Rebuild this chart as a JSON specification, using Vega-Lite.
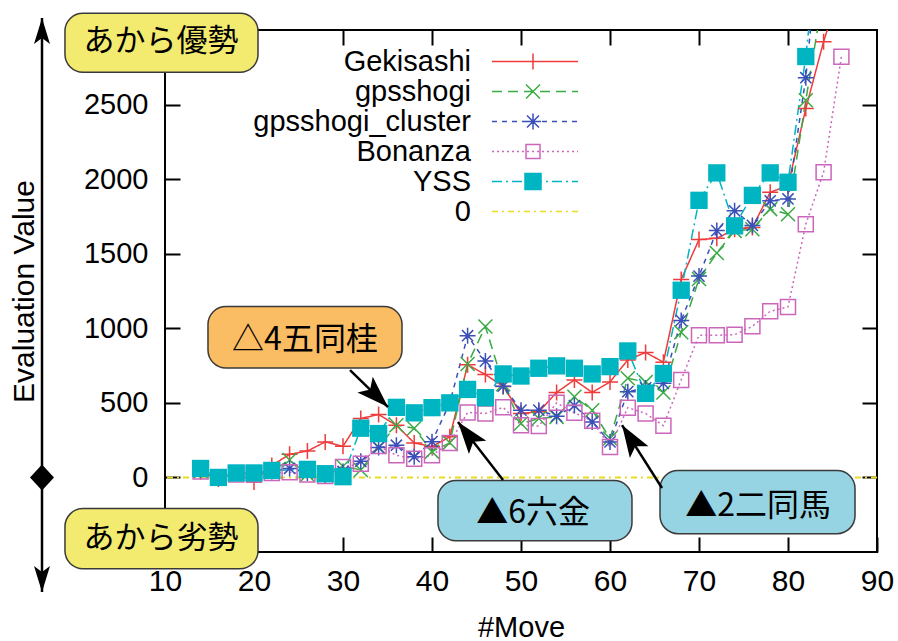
{
"$schema":"https://vega.github.io/schema/vega-lite/v6.json",
"width":712,"height":522,
"autosize":"none",
"padding":{"left":165,"top":30,"right":21,"bottom":89},
"background":"white",
"config":{"view":{"stroke":"black","strokeWidth":2},"font":"Liberation Sans"},
"datasets":{"evals":[
{"series":"Gekisashi","move":14,"value":40},{"series":"Gekisashi","move":16,"value":-10},{"series":"Gekisashi","move":18,"value":30},{"series":"Gekisashi","move":20,"value":-30},{"series":"Gekisashi","move":22,"value":80},{"series":"Gekisashi","move":24,"value":155},{"series":"Gekisashi","move":26,"value":177},{"series":"Gekisashi","move":28,"value":238},{"series":"Gekisashi","move":30,"value":209},{"series":"Gekisashi","move":32,"value":395},{"series":"Gekisashi","move":34,"value":422},{"series":"Gekisashi","move":36,"value":350},{"series":"Gekisashi","move":38,"value":231},{"series":"Gekisashi","move":40,"value":207},{"series":"Gekisashi","move":42,"value":272},{"series":"Gekisashi","move":44,"value":755},{"series":"Gekisashi","move":46,"value":690},{"series":"Gekisashi","move":48,"value":610},{"series":"Gekisashi","move":50,"value":429},{"series":"Gekisashi","move":52,"value":440},{"series":"Gekisashi","move":54,"value":570},{"series":"Gekisashi","move":56,"value":654},{"series":"Gekisashi","move":58,"value":570},{"series":"Gekisashi","move":60,"value":640},{"series":"Gekisashi","move":62,"value":788},{"series":"Gekisashi","move":64,"value":838},{"series":"Gekisashi","move":66,"value":773},{"series":"Gekisashi","move":68,"value":1327},{"series":"Gekisashi","move":70,"value":1595},{"series":"Gekisashi","move":72,"value":1603},{"series":"Gekisashi","move":74,"value":1664},{"series":"Gekisashi","move":76,"value":1676},{"series":"Gekisashi","move":78,"value":1912},{"series":"Gekisashi","move":80,"value":1956},{"series":"Gekisashi","move":82,"value":2473},{"series":"Gekisashi","move":84,"value":2922},{"series":"Gekisashi","move":86,"value":3300},
{"series":"gpsshogi","move":14,"value":40},{"series":"gpsshogi","move":16,"value":0},{"series":"gpsshogi","move":18,"value":30},{"series":"gpsshogi","move":20,"value":30},{"series":"gpsshogi","move":22,"value":45},{"series":"gpsshogi","move":24,"value":117},{"series":"gpsshogi","move":26,"value":20},{"series":"gpsshogi","move":28,"value":30},{"series":"gpsshogi","move":30,"value":75},{"series":"gpsshogi","move":32,"value":50},{"series":"gpsshogi","move":34,"value":204},{"series":"gpsshogi","move":36,"value":350},{"series":"gpsshogi","move":38,"value":330},{"series":"gpsshogi","move":40,"value":173},{"series":"gpsshogi","move":42,"value":232},{"series":"gpsshogi","move":44,"value":760},{"series":"gpsshogi","move":46,"value":1012},{"series":"gpsshogi","move":48,"value":625},{"series":"gpsshogi","move":50,"value":361},{"series":"gpsshogi","move":52,"value":395},{"series":"gpsshogi","move":54,"value":406},{"series":"gpsshogi","move":56,"value":541},{"series":"gpsshogi","move":58,"value":451},{"series":"gpsshogi","move":60,"value":261},{"series":"gpsshogi","move":62,"value":665},{"series":"gpsshogi","move":64,"value":639},{"series":"gpsshogi","move":66,"value":570},{"series":"gpsshogi","move":68,"value":973},{"series":"gpsshogi","move":70,"value":1330},{"series":"gpsshogi","move":72,"value":1505},{"series":"gpsshogi","move":74,"value":1653},{"series":"gpsshogi","move":76,"value":1664},{"series":"gpsshogi","move":78,"value":1799},{"series":"gpsshogi","move":80,"value":1765},{"series":"gpsshogi","move":82,"value":2529},{"series":"gpsshogi","move":84,"value":3250},
{"series":"gpsshogi_cluster","move":14,"value":50},{"series":"gpsshogi_cluster","move":16,"value":0},{"series":"gpsshogi_cluster","move":18,"value":30},{"series":"gpsshogi_cluster","move":20,"value":30},{"series":"gpsshogi_cluster","move":22,"value":40},{"series":"gpsshogi_cluster","move":24,"value":60},{"series":"gpsshogi_cluster","move":26,"value":30},{"series":"gpsshogi_cluster","move":28,"value":13},{"series":"gpsshogi_cluster","move":30,"value":40},{"series":"gpsshogi_cluster","move":32,"value":108},{"series":"gpsshogi_cluster","move":34,"value":200},{"series":"gpsshogi_cluster","move":36,"value":216},{"series":"gpsshogi_cluster","move":38,"value":139},{"series":"gpsshogi_cluster","move":40,"value":240},{"series":"gpsshogi_cluster","move":42,"value":500},{"series":"gpsshogi_cluster","move":44,"value":950},{"series":"gpsshogi_cluster","move":46,"value":780},{"series":"gpsshogi_cluster","move":48,"value":612},{"series":"gpsshogi_cluster","move":50,"value":451},{"series":"gpsshogi_cluster","move":52,"value":451},{"series":"gpsshogi_cluster","move":54,"value":411},{"series":"gpsshogi_cluster","move":56,"value":482},{"series":"gpsshogi_cluster","move":58,"value":372},{"series":"gpsshogi_cluster","move":60,"value":238},{"series":"gpsshogi_cluster","move":62,"value":575},{"series":"gpsshogi_cluster","move":64,"value":600},{"series":"gpsshogi_cluster","move":66,"value":631},{"series":"gpsshogi_cluster","move":68,"value":1053},{"series":"gpsshogi_cluster","move":70,"value":1350},{"series":"gpsshogi_cluster","move":72,"value":1655},{"series":"gpsshogi_cluster","move":74,"value":1788},{"series":"gpsshogi_cluster","move":76,"value":1690},{"series":"gpsshogi_cluster","move":78,"value":1855},{"series":"gpsshogi_cluster","move":80,"value":1867},{"series":"gpsshogi_cluster","move":82,"value":2680},{"series":"gpsshogi_cluster","move":84,"value":3900},
{"series":"Bonanza","move":14,"value":40},{"series":"Bonanza","move":16,"value":0},{"series":"Bonanza","move":18,"value":20},{"series":"Bonanza","move":20,"value":20},{"series":"Bonanza","move":22,"value":30},{"series":"Bonanza","move":24,"value":35},{"series":"Bonanza","move":26,"value":20},{"series":"Bonanza","move":28,"value":10},{"series":"Bonanza","move":30,"value":70},{"series":"Bonanza","move":32,"value":92},{"series":"Bonanza","move":34,"value":210},{"series":"Bonanza","move":36,"value":148},{"series":"Bonanza","move":38,"value":126},{"series":"Bonanza","move":40,"value":148},{"series":"Bonanza","move":42,"value":231},{"series":"Bonanza","move":44,"value":436},{"series":"Bonanza","move":46,"value":429},{"series":"Bonanza","move":48,"value":470},{"series":"Bonanza","move":50,"value":350},{"series":"Bonanza","move":52,"value":344},{"series":"Bonanza","move":54,"value":500},{"series":"Bonanza","move":56,"value":433},{"series":"Bonanza","move":58,"value":380},{"series":"Bonanza","move":60,"value":204},{"series":"Bonanza","move":62,"value":468},{"series":"Bonanza","move":64,"value":429},{"series":"Bonanza","move":66,"value":347},{"series":"Bonanza","move":68,"value":654},{"series":"Bonanza","move":70,"value":953},{"series":"Bonanza","move":72,"value":953},{"series":"Bonanza","move":74,"value":957},{"series":"Bonanza","move":76,"value":1013},{"series":"Bonanza","move":78,"value":1114},{"series":"Bonanza","move":80,"value":1143},{"series":"Bonanza","move":82,"value":1698},{"series":"Bonanza","move":84,"value":2046},{"series":"Bonanza","move":86,"value":2821},
{"series":"YSS","move":14,"value":60},{"series":"YSS","move":16,"value":0},{"series":"YSS","move":18,"value":30},{"series":"YSS","move":20,"value":30},{"series":"YSS","move":22,"value":47},{"series":"YSS","move":26,"value":54},{"series":"YSS","move":28,"value":25},{"series":"YSS","move":30,"value":5},{"series":"YSS","move":32,"value":330},{"series":"YSS","move":34,"value":294},{"series":"YSS","move":36,"value":470},{"series":"YSS","move":38,"value":433},{"series":"YSS","move":40,"value":468},{"series":"YSS","move":42,"value":500},{"series":"YSS","move":44,"value":590},{"series":"YSS","move":46,"value":535},{"series":"YSS","move":48,"value":694},{"series":"YSS","move":50,"value":680},{"series":"YSS","move":52,"value":732},{"series":"YSS","move":54,"value":748},{"series":"YSS","move":56,"value":732},{"series":"YSS","move":58,"value":694},{"series":"YSS","move":60,"value":743},{"series":"YSS","move":62,"value":848},{"series":"YSS","move":64,"value":564},{"series":"YSS","move":66,"value":697},{"series":"YSS","move":68,"value":1255},{"series":"YSS","move":70,"value":1858},{"series":"YSS","move":72,"value":2042},{"series":"YSS","move":74,"value":1687},{"series":"YSS","move":76,"value":1891},{"series":"YSS","move":78,"value":2042},{"series":"YSS","move":80,"value":1979},{"series":"YSS","move":82,"value":2822},{"series":"YSS","move":84,"value":3950}
]},
"resolve":{"axis":{"x":"independent","y":"independent"}},
"layer":[
{"layer":[
 {"data":{"values":[{}]},"mark":{"type":"rule","color":"#e6dc20","strokeWidth":2,"strokeDash":[6,4,2,4]},"encoding":{"y":{"datum":0}}},
 {"data":{"name":"evals"},
  "mark":{"type":"line","strokeWidth":1.5,"clip":true},
  "encoding":{
   "x":{"field":"move","type":"quantitative","scale":{"domain":[10,90],"nice":false,"zero":false},
     "axis":{"title":"#Move","values":[10,20,30,40,50,60,70,80,90],"format":"d","tickSize":-15,"tickWidth":2,"tickColor":"black","domain":false,"grid":false,"labelFont":"Liberation Sans","labelFontSize":30,"labelColor":"black","labelPadding":29,"labelFlush":false,"labelOverlap":false,"labelBound":false,"titleFont":"Liberation Sans","titleFontSize":29,"titleFontWeight":"normal","titleColor":"black","titleY":84,"titleBaseline":"alphabetic"}},
   "y":{"field":"value","type":"quantitative","scale":{"domain":[-500,3000],"nice":false,"zero":false},
     "axis":{"title":"Evaluation Value","values":[0,500,1000,1500,2000,2500],"format":"d","tickSize":-15,"tickWidth":2,"tickColor":"black","domain":false,"grid":false,"labelFont":"Liberation Sans","labelFontSize":29,"labelColor":"black","labelPadding":32,"labelOverlap":false,"labelBound":false,"titleFont":"Liberation Sans","titleFontSize":30,"titleFontWeight":"normal","titleColor":"black","titleX":-141,"titleY":261,"titleAngle":-90,"titleBaseline":"middle","titleAlign":"center"}},
   "color":{"field":"series","type":"nominal","scale":{"domain":["Gekisashi","gpsshogi","gpsshogi_cluster","Bonanza","YSS"],"range":["#ee3b3b","#3aaa44","#3a4fb8","#cc66bb","#00b5c2"]},"legend":null},
   "strokeDash":{"field":"series","type":"nominal","scale":{"domain":["Gekisashi","gpsshogi","gpsshogi_cluster","Bonanza","YSS"],"range":[[1,0],[10,6],[5,5],[2,3],[10,4,2,4]]},"legend":null}
  }},
 {"data":{"name":"evals"},"transform":[{"filter":"datum.series == 'Gekisashi'"}],
  "mark":{"type":"point","shape":"M-1,0L1,0M0,-1L0,1","size":256,"filled":false,"strokeWidth":1.5,"opacity":1,"clip":true},
  "encoding":{"x":{"field":"move","type":"quantitative"},"y":{"field":"value","type":"quantitative"},"color":{"field":"series","type":"nominal","legend":null}}},
 {"data":{"name":"evals"},"transform":[{"filter":"datum.series == 'gpsshogi'"}],
  "mark":{"type":"point","shape":"M-1,-1L1,1M-1,1L1,-1","size":196,"filled":false,"strokeWidth":1.5,"opacity":1,"clip":true},
  "encoding":{"x":{"field":"move","type":"quantitative"},"y":{"field":"value","type":"quantitative"},"color":{"field":"series","type":"nominal","legend":null}}},
 {"data":{"name":"evals"},"transform":[{"filter":"datum.series == 'gpsshogi_cluster'"}],
  "mark":{"type":"point","shape":"M-1,0L1,0M0,-1L0,1M-0.7,-0.7L0.7,0.7M-0.7,0.7L0.7,-0.7","size":256,"filled":false,"strokeWidth":1.5,"opacity":1,"clip":true},
  "encoding":{"x":{"field":"move","type":"quantitative"},"y":{"field":"value","type":"quantitative"},"color":{"field":"series","type":"nominal","legend":null}}},
 {"data":{"name":"evals"},"transform":[{"filter":"datum.series == 'Bonanza'"}],
  "mark":{"type":"point","shape":"square","size":225,"filled":false,"strokeWidth":1.5,"opacity":1,"clip":true},
  "encoding":{"x":{"field":"move","type":"quantitative"},"y":{"field":"value","type":"quantitative"},"color":{"field":"series","type":"nominal","legend":null}}},
 {"data":{"name":"evals"},"transform":[{"filter":"datum.series == 'YSS'"}],
  "mark":{"type":"point","shape":"square","size":300,"filled":true,"opacity":1,"clip":true},
  "encoding":{"x":{"field":"move","type":"quantitative"},"y":{"field":"value","type":"quantitative"},"color":{"field":"series","type":"nominal","legend":null}}},

 {"data":{"values":[{}]},"mark":{"type":"rect","fill":"#f3ea70","stroke":"#3a3a3a","strokeWidth":1.5,"cornerRadius":18},"encoding":{"x":{"datum":-1.24},"x2":{"datum":20.45},"y":{"datum":3113},"y2":{"datum":2716}}},
 {"data":{"values":[{}]},"mark":{"type":"text","text":"あから優勢","font":"Noto Sans CJK JP","fontSize":31,"color":"black","align":"center","baseline":"middle"},"encoding":{"x":{"datum":9.55},"y":{"datum":2918}}},
 {"data":{"values":[{}]},"mark":{"type":"rect","fill":"#f3ea70","stroke":"#3a3a3a","strokeWidth":1.5,"cornerRadius":18},"encoding":{"x":{"datum":-1.24},"x2":{"datum":20.45},"y":{"datum":-209},"y2":{"datum":-613}}},
 {"data":{"values":[{}]},"mark":{"type":"text","text":"あから劣勢","font":"Noto Sans CJK JP","fontSize":31,"color":"black","align":"center","baseline":"middle"},"encoding":{"x":{"datum":9.55},"y":{"datum":-411}}},
 {"data":{"values":[{}]},"mark":{"type":"rect","fill":"#fbbd63","stroke":"#3a3a3a","strokeWidth":1.5,"cornerRadius":18},"encoding":{"x":{"datum":14.83},"x2":{"datum":36.63},"y":{"datum":1146},"y2":{"datum":734}}},
 {"data":{"values":[{}]},"mark":{"type":"text","text":"△4五同桂","font":"Noto Sans CJK JP","fontSize":32,"color":"black","align":"center","baseline":"middle"},"encoding":{"x":{"datum":25.73},"y":{"datum":923}}},
 {"data":{"values":[{}]},"mark":{"type":"rect","fill":"#96d4e4","stroke":"#3a3a3a","strokeWidth":1.5,"cornerRadius":18},"encoding":{"x":{"datum":40.67},"x2":{"datum":62.47},"y":{"datum":-20},"y2":{"datum":-425}}},
 {"data":{"values":[{}]},"mark":{"type":"text","text":"▲6六金","font":"Noto Sans CJK JP","fontSize":32,"color":"black","align":"center","baseline":"middle"},"encoding":{"x":{"datum":51.35},"y":{"datum":-236}}},
 {"data":{"values":[{}]},"mark":{"type":"rect","fill":"#96d4e4","stroke":"#3a3a3a","strokeWidth":1.5,"cornerRadius":18},"encoding":{"x":{"datum":65.62},"x2":{"datum":87.53},"y":{"datum":47},"y2":{"datum":-377}}},
 {"data":{"values":[{}]},"mark":{"type":"text","text":"▲2二同馬","font":"Noto Sans CJK JP","fontSize":32,"color":"black","align":"center","baseline":"middle"},"encoding":{"x":{"datum":76.63},"y":{"datum":-189}}},

 {"data":{"values":[{}]},"mark":{"type":"rule","color":"black","strokeWidth":2.5},"encoding":{"x":{"datum":30.79},"y":{"datum":720},"x2":{"datum":35.06},"y2":{"datum":472}}},
 {"data":{"values":[{}]},"mark":{"type":"point","shape":"M0,0L-11,32L0,25L11,32Z","size":4,"filled":true,"color":"black","opacity":1,"strokeWidth":0,"angle":134.2},"encoding":{"x":{"datum":35.06},"y":{"datum":472}}},
 {"data":{"values":[{}]},"mark":{"type":"rule","color":"black","strokeWidth":2.5},"encoding":{"x":{"datum":47.98},"y":{"datum":-17},"x2":{"datum":42.92},"y2":{"datum":371}}},
 {"data":{"values":[{}]},"mark":{"type":"point","shape":"M0,0L-11,32L0,25L11,32Z","size":4,"filled":true,"color":"black","opacity":1,"strokeWidth":0,"angle":322.2},"encoding":{"x":{"datum":42.92},"y":{"datum":371}}},
 {"data":{"values":[{}]},"mark":{"type":"rule","color":"black","strokeWidth":2.5},"encoding":{"x":{"datum":65.84},"y":{"datum":-71},"x2":{"datum":61.35},"y2":{"datum":351}}},
 {"data":{"values":[{}]},"mark":{"type":"point","shape":"M0,0L-11,32L0,25L11,32Z","size":4,"filled":true,"color":"black","opacity":1,"strokeWidth":0,"angle":327.6},"encoding":{"x":{"datum":61.35},"y":{"datum":351}}},

 {"data":{"values":[{}]},"mark":{"type":"rule","color":"black","strokeWidth":2.5},"encoding":{"x":{"datum":-3.82},"y":{"datum":3080},"y2":{"datum":-768}}},
 {"data":{"values":[{}]},"mark":{"type":"point","shape":"M0,0L-8,26L0,20L8,26Z","size":4,"filled":true,"color":"black","opacity":1,"strokeWidth":0,"angle":0},"encoding":{"x":{"datum":-3.82},"y":{"datum":3080}}},
 {"data":{"values":[{}]},"mark":{"type":"point","shape":"M0,0L-8,26L0,20L8,26Z","size":4,"filled":true,"color":"black","opacity":1,"strokeWidth":0,"angle":180},"encoding":{"x":{"datum":-3.82},"y":{"datum":-768}}},
 {"data":{"values":[{}]},"mark":{"type":"point","shape":"M0,-13L12,0L0,13L-12,0Z","size":4,"filled":true,"color":"black","opacity":1,"strokeWidth":0},"encoding":{"x":{"datum":-3.82},"y":{"datum":0}}},

 {"data":{"name":"evals"},"transform":[{"filter":"false"}],
  "mark":{"type":"point","filled":true,"opacity":1},
  "encoding":{
   "shape":{"field":"series","type":"nominal",
     "scale":{"domain":["Gekisashi","gpsshogi","gpsshogi_cluster","Bonanza","YSS","0"],
       "range":["M-41,0L45,0M-8,0L8,0M0,-8L0,8",
        "M-41,0L-31,0M-25,0L-15,0M-9,0L1,0M7,0L17,0M23,0L33,0M39,0L45,0M-7,-7L7,7M-7,7L7,-7",
        "M-41,0L-36,0M-31,0L-26,0M-21,0L-16,0M-11,0L-6,0M-1,0L4,0M9,0L14,0M19,0L24,0M29,0L34,0M39,0L44,0M-8,0L8,0M0,-8L0,8M-6,-6L6,6M-6,6L6,-6",
        "M-41,0L-39,0M-36,0L-34,0M-31,0L-29,0M-26,0L-24,0M-21,0L-19,0M-16,0L-14,0M-11,0L-9,0M-6,0L-4,0M-1,0L1,0M4,0L6,0M9,0L11,0M14,0L16,0M19,0L21,0M24,0L26,0M29,0L31,0M34,0L36,0M39,0L41,0M44,0L45,0M-7,-7L7,-7L7,7L-7,7Z",
        "M-41,0L-31,0M-27,0L-25,0M-21,0L-11,0M-7,0L-5,0M-1,0L9,0M13,0L15,0M19,0L29,0M33,0L35,0M39,0L45,0M-8,-8L8,-8L8,8L-8,8Z",
        "M-41,0L-35,0M-31,0L-29,0M-25,0L-19,0M-15,0L-13,0M-9,0L-3,0M1,0L3,0M7,0L13,0M17,0L19,0M23,0L29,0M33,0L35,0M39,0L45,0"]},
     "legend":{"orient":"none","legendX":353.5,"legendY":17,"title":null,"labelFont":"Liberation Sans","labelFontSize":29,"labelColor":"black","labelAlign":"right","labelOffset":-76.5,"labelLimit":500,"symbolSize":4,"symbolStrokeWidth":1.5,"rowPadding":0,"symbolOffset":0,"padding":0}},
   "stroke":{"field":"series","type":"nominal","scale":{"domain":["Gekisashi","gpsshogi","gpsshogi_cluster","Bonanza","YSS","0"],"range":["#ee3b3b","#3aaa44","#3a4fb8","#cc66bb","#00b5c2","#e6dc20"]},
     "legend":{"orient":"none","legendX":353.5,"legendY":17,"title":null,"labelFont":"Liberation Sans","labelFontSize":29,"labelColor":"black","labelAlign":"right","labelOffset":-76.5,"labelLimit":500,"symbolSize":4,"symbolStrokeWidth":1.5,"rowPadding":0,"symbolOffset":0,"padding":0}},
   "fill":{"field":"series","type":"nominal","scale":{"domain":["Gekisashi","gpsshogi","gpsshogi_cluster","Bonanza","YSS","0"],"range":["transparent","transparent","transparent","transparent","#00b5c2","transparent"]},
     "legend":{"orient":"none","legendX":353.5,"legendY":17,"title":null,"labelFont":"Liberation Sans","labelFontSize":29,"labelColor":"black","labelAlign":"right","labelOffset":-76.5,"labelLimit":500,"symbolSize":4,"symbolStrokeWidth":1.5,"rowPadding":0,"symbolOffset":0,"padding":0}}
  }}
]},
{"data":{"name":"evals"},"transform":[{"filter":"false"}],
 "mark":"point",
 "encoding":{
  "x":{"field":"move","type":"quantitative","axis":{"orient":"top","labels":false,"title":null,"domain":false,"grid":false,"tickSize":-15,"tickWidth":2,"tickColor":"black","values":[20,30,40,50,60,70,80]}},
  "y":{"field":"value","type":"quantitative","axis":{"orient":"right","labels":false,"title":null,"domain":false,"grid":false,"tickSize":-15,"tickWidth":2,"tickColor":"black","values":[0,500,1000,1500,2000,2500]}}
 }}
]
}
